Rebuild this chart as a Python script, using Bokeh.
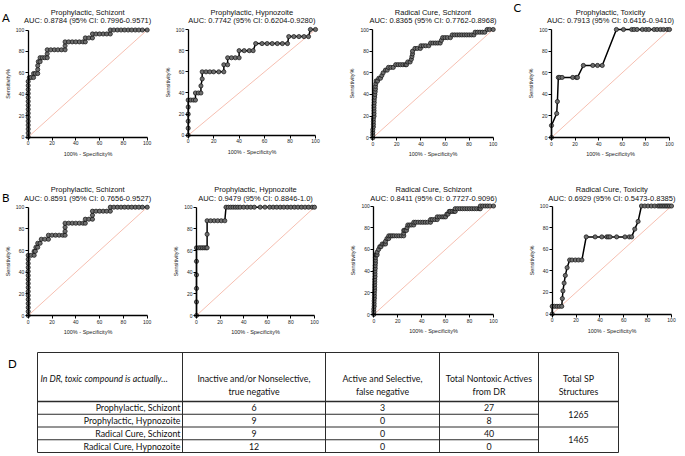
from bokeh.plotting import figure
from bokeh.layouts import row, column
from bokeh.models import Range1d, ColumnDataSource
from bokeh.embed import file_html
from bokeh.resources import INLINE
from bokeh.core.properties import value

# ---------------- data ----------------
TICKS = [0, 20, 40, 60, 80, 100]
diag_x = [0, 100]
diag_y = [0, 100]

names_a = ["Prophylactic, Schizont", "Prophylactic, Hypnozoite", "Radical Cure, Schizont", "Prophylactic, Toxicity"]
aucs_a = ["AUC: 0.8784 (95% CI: 0.7996-0.9571)", "AUC: 0.7742 (95% CI: 0.6204-0.9280)",
          "AUC: 0.8365 (95% CI: 0.7762-0.8968)", "AUC: 0.7913 (95% CI: 0.6416-0.9410)"]
names_b = ["Prophylactic, Schizont", "Prophylactic, Hypnozoite", "Radical Cure, Schizont", "Radical Cure, Toxicity"]
aucs_b = ["AUC: 0.8591 (95% CI: 0.7656-0.9527)", "AUC: 0.9479 (95% CI: 0.8846-1.0)",
          "AUC: 0.8411 (95% CI: 0.7727-0.9096)", "AUC: 0.6929 (95% CI: 0.5473-0.8385)"]
panel_letters = ["A", "B", "C", "D"]

# (100% - specificity, sensitivity) points
a1_pts = [(0, 0), (0, 3.7), (0, 7.4), (0, 11.1), (0, 14.8), (0, 18.5), (0, 22.2), (0, 25.9), (0, 29.6),
          (0, 33.3), (0, 37.0), (0, 40.7), (0, 44.4), (0, 48.1), (0, 51.9), (1, 55.6), (2.5, 55.6),
          (4.5, 55.6), (4.5, 59.3), (6, 59.3), (8, 59.3), (8, 63.0), (8, 66.7), (8.5, 70.4), (10, 70.4),
          (10, 74.1), (12, 74.1), (14, 74.1), (16, 74.1), (16, 77.8), (16, 81.5), (19, 81.5), (22, 81.5),
          (25, 81.5), (28, 81.5), (31, 81.5), (31, 85.2), (31, 88.9), (34, 88.9), (37, 88.9), (40, 88.9),
          (43, 88.9), (46, 88.9), (48, 88.9), (48, 92.6), (51, 92.6), (54, 92.6), (54, 96.3), (57, 96.3),
          (60, 96.3), (63, 96.3), (66, 96.3), (69, 96.3), (69, 100), (72, 100), (75, 100), (78, 100),
          (81, 100), (84, 100), (87, 100), (90, 100), (93, 100), (96, 100), (100, 100)]

a2_pts = [(0, 0), (0, 6.7), (0, 13.3), (0, 20), (0, 26.7), (0, 33.3), (2, 33.3), (4, 33.3), (5.7, 33.3),
          (5.7, 40), (8, 40), (10, 40), (10, 46.7), (11, 53.3), (11, 60), (14, 60), (17, 60), (20, 60),
          (24, 60), (28, 60), (28, 66.7), (31, 66.7), (31, 73.3), (34, 73.3), (37, 73.3), (40, 73.3),
          (40, 80), (44, 80), (48, 80), (51, 80), (53, 86.7), (58, 86.7), (62, 86.7), (66, 86.7),
          (70, 86.7), (74, 86.7), (78, 86.7), (79, 93.3), (83, 93.3), (87, 93.3), (91, 93.3),
          (94.5, 93.3), (96, 100), (100, 100)]

a3_pts = [(0, 0), (0, 2.5), (0, 5), (0, 7.5), (0.5, 10), (0.5, 12.5), (0.5, 15), (0.5, 17.5), (1, 20),
          (1, 22.5), (1, 25), (1, 27.5), (1, 30), (1.2, 32.5), (1.2, 35), (1.5, 37.5), (1.7, 40), (2, 42.5),
          (2.2, 45), (2.2, 47.5), (2.5, 50), (2.8, 52.5), (4, 52.5), (5, 55), (6.4, 55), (7.5, 57.5),
          (8.6, 60), (10.5, 62.5), (12, 62.5), (13, 65), (15, 65), (17, 65), (19, 67.5), (21, 67.5),
          (23, 67.5), (25, 67.5), (27, 67.5), (28, 67.5), (29, 70), (31, 70), (32, 72.5), (32.5, 75),
          (33, 77.5), (33, 80), (35, 82.5), (37, 82.5), (39.5, 82.5), (40, 85), (42, 85), (44, 85),
          (46.5, 85), (48, 87.5), (50, 87.5), (52, 87.5), (54, 87.5), (56, 87.5), (57, 90), (58, 92.5),
          (60, 92.5), (62, 92.5), (64.5, 92.5), (66, 95), (68, 95), (70, 95), (72, 95), (74, 95), (76, 95),
          (78, 95), (80, 95), (82, 95), (84, 95), (85, 97.5), (87, 97.5), (89, 97.5), (91, 97.5),
          (93, 97.5), (95, 100), (97, 100), (100, 100)]

a4_pts = [(0, 0), (0, 11.1), (4.4, 22.2), (5, 33.3), (5.8, 55.6), (7, 55.6), (9, 55.6), (18, 55.6),
          (21, 55.6), (22, 55.6), (27, 66.7), (35, 66.7), (39, 66.7), (43, 66.7), (55, 100), (61, 100),
          (68, 100), (70, 100), (72.5, 100), (77, 100), (80, 100), (82.5, 100), (87, 100), (89.5, 100),
          (92.4, 100), (95, 100), (98, 100), (100, 100)]

b1_pts = [(0, 0), (0, 3.7), (0, 7.4), (0, 11.1), (0, 14.8), (0, 18.5), (0, 22.2), (0, 25.9), (0, 29.6),
          (0, 33.3), (0, 37.0), (0, 40.7), (0, 44.4), (0, 48.1), (0, 51.9), (0, 55.6), (2.5, 55.6),
          (5, 55.6), (5, 59.3), (6, 59.3), (6.5, 63.0), (8, 63.0), (8, 66.7), (10, 66.7), (11, 70.4),
          (14, 70.4), (17, 70.4), (17, 74.1), (20, 74.1), (23, 74.1), (26, 74.1), (29, 74.1), (31, 74.1),
          (31, 77.8), (31, 81.5), (31, 85.2), (34, 85.2), (37, 85.2), (40, 85.2), (43, 85.2), (46, 85.2),
          (48, 85.2), (48, 88.9), (51, 88.9), (54, 88.9), (54, 92.6), (54, 96.3), (57, 96.3), (60, 96.3),
          (63, 96.3), (66, 96.3), (69, 96.3), (69, 100), (72, 100), (75, 100), (78, 100), (81, 100),
          (84, 100), (87, 100), (90, 100), (93, 100), (96, 100), (100, 100)]

b2_pts = [(0, 0), (0, 12.5), (0, 25), (0, 37.5), (0, 50), (0, 62.5), (2, 62.5), (3.5, 62.5), (5, 62.5),
          (6.5, 62.5), (8, 62.5), (9, 62.5), (9, 75), (9, 87.5), (12, 87.5), (15, 87.5), (18, 87.5),
          (21, 87.5), (24, 87.5), (25, 100), (27, 100), (29, 100), (31, 100), (33, 100), (35, 100),
          (37, 100), (40, 100), (43, 100), (46, 100), (49, 100), (54, 100), (58, 100), (62, 100),
          (65, 100), (68, 100), (71, 100), (74, 100), (77, 100), (80, 100), (83, 100), (86, 100),
          (89, 100), (92, 100), (95, 100), (98, 100), (100, 100)]

b3_pts = [(0, 0), (0, 2.5), (0, 5), (0.3, 7.5), (0.3, 10), (0.3, 12.5), (0.5, 15), (0.5, 17.5), (0.5, 20),
          (0.7, 22.5), (0.7, 25), (0.7, 27.5), (0.8, 30), (0.8, 32.5), (1, 35), (1, 37.5), (1, 40),
          (1.2, 42.5), (1.2, 45), (1.4, 47.5), (1.4, 50), (1.4, 52.5), (1.4, 55), (2.1, 55), (2.8, 55),
          (2.8, 57.5), (4, 60), (5, 62.5), (6, 62.5), (7, 65), (8.5, 65), (9.8, 65), (9.8, 67.5), (11, 70),
          (12.5, 70), (12.5, 72.5), (14, 72.5), (15.5, 72.5), (17, 72.5), (19, 72.5), (21, 72.5),
          (23, 72.5), (25, 72.5), (25, 75), (25, 77.5), (26, 77.5), (27.3, 77.5), (27.8, 80), (28.4, 82.5),
          (30, 82.5), (31.5, 82.5), (33.4, 82.5), (33.4, 85), (35, 85), (37, 85), (39, 85), (41, 85),
          (43, 85), (45, 85), (47.4, 85), (47.4, 87.5), (49, 87.5), (51, 87.5), (53, 87.5), (53, 90),
          (55, 90), (57, 90), (58.5, 90), (60, 90), (61, 92.5), (62, 92.5), (63, 95), (64, 95), (65.5, 95),
          (67, 95), (68, 95), (68, 97.5), (70, 97.5), (72, 97.5), (74, 97.5), (76, 97.5), (78, 97.5),
          (80, 97.5), (82, 97.5), (84, 97.5), (86, 97.5), (88, 97.5), (89, 97.5), (89, 100), (91, 100),
          (93, 100), (95, 100), (97, 100), (100, 100)]

b4_pts = [(0, 0), (0, 7.1), (2, 7.1), (4, 7.1), (6, 7.1), (8, 7.1), (8.5, 14.3), (9, 21.4), (10, 28.6),
          (11, 35.7), (12.5, 42.9), (14.6, 50), (16.6, 50), (19.4, 50), (22.1, 50), (24.9, 50),
          (28.5, 71.4), (36, 71.4), (41.6, 71.4), (45.7, 71.4), (47.1, 71.4), (48.5, 71.4), (54, 71.4),
          (61, 71.4), (64.6, 71.4), (66.6, 71.4), (69.2, 78.6), (72, 85.7), (74.8, 100), (77.6, 100),
          (80.3, 100), (83.1, 100), (85.9, 100), (88.6, 100), (90, 100), (91.4, 100), (92.8, 100),
          (94.2, 100), (95.6, 100), (96.9, 100), (98.3, 100), (100, 100)]

table_rows = ["Prophylactic, Schizont", "Prophylactic, Hypnozoite", "Radical Cure, Schizont", "Radical Cure, Hypnozoite"]
table_tn = [6, 9, 9, 12]
table_fn = [3, 0, 0, 0]
table_actives = [27, 8, 40, 0]
table_sp = [1265, 1465]
table_corner = "In DR, toxic compound is actually…"
table_head1 = ["Inactive and/or Nonselective,", "Active and Selective,", "Total Nontoxic Actives", "Total SP"]
table_head2 = ["true negative", "false negative", "from DR", "Structures"]

# ---------------- layout (page pixel positions; Bokeh's page template has no body margin) ----------------
AX_FONT = "Liberation Sans"
TBL_FONT = "Lato"
FIG_X = [0, 160, 344, 523]
FIG_W = [160, 184, 179, 161]
ROW_Y = [0, 168]
ROW_H = [168, 170]
TABLE_Y, TABLE_H, TABLE_W = 338, 117, 684
# page x of 0 and 100, page y of 0 and 100 for each panel
GEO_A = [(27.7, 146.7, 136.5, 29.5), (187.7, 315, 134.8, 29), (372.3, 492.7, 137.3, 29), (551, 669, 137, 29)]
GEO_B = [(27.7, 146.7, 315, 206.7), (196, 314, 315, 206.7), (373.3, 493, 314, 205.5), (551.7, 671, 313.5, 205.5)]
TITLE_Y = [(11.7, 20.2), (189, 197.5)]


def roc(col, rix, geo, name, auc, pts):
    fx, fy, W, H = FIG_X[col], ROW_Y[rix], FIG_W[col], ROW_H[rix]
    x0, x100, y0, y100 = geo
    ppx = (x100 - x0) / 100.0
    ppy = (y0 - y100) / 100.0

    def dx(px):
        return (px - x0) / ppx

    def dy(py):
        return (y0 - py) / ppy

    p = figure(width=W, height=H, x_range=Range1d(dx(fx), dx(fx + W)), y_range=Range1d(dy(fy + H), dy(fy)),
               output_backend="svg", toolbar_location=None, title=None, min_border=0,
               min_border_left=0, min_border_right=0, min_border_top=0, min_border_bottom=0)
    p.xgrid.visible = False
    p.ygrid.visible = False
    p.outline_line_color = None
    p.background_fill_color = "white"
    p.border_fill_color = "white"
    for ax in (p.xaxis[0], p.yaxis[0]):
        ax.fixed_location = 0
        ax.ticker = TICKS
        ax.bounds = (0, 100)
        ax.axis_line_width = 1.3
        ax.axis_line_color = "black"
        ax.major_tick_line_width = 1
        ax.major_tick_line_color = "black"
        ax.major_tick_out = 3
        ax.major_tick_in = 0
        ax.minor_tick_line_color = None
        ax.major_label_text_font_size = "5px"
        ax.major_label_text_font = AX_FONT
        ax.major_label_text_color = "#222222"
        ax.major_label_standoff = 1
        ax.axis_label_text_font_size = "5.5px"
        ax.axis_label_text_font = AX_FONT
        ax.axis_label_text_font_style = "normal"
        ax.axis_label_text_color = "#222222"
        ax.axis_label_standoff = 2
    p.xaxis[0].axis_label = "100% - Specificity%"
    p.yaxis[0].axis_label = "Sensitivity%"

    xs = [q[0] for q in pts]
    ys = [q[1] for q in pts]
    p.line(diag_x, diag_y, line_color="#f2a48f", line_width=0.7)
    p.line(xs, ys, line_color="black", line_width=1.5)
    p.scatter(xs, ys, size=4.2, fill_color="#6e6e6e", line_color="#111111", line_width=0.7)

    cx = dx((x0 + x100) / 2)
    ty1, ty2 = TITLE_Y[rix]
    p.text(x=[cx, cx], y=[dy(ty1), dy(ty2)], text=[name, auc], text_font=value(AX_FONT),
           text_font_size="7.5px", text_align="center", text_baseline="middle", text_color="#111111")

    def put_letter(txt, px, py):
        p.text(x=[dx(px)], y=[dy(py)], text=[txt], text_font=value(TBL_FONT), text_font_size="11.5px",
               text_align="left", text_baseline="middle", text_color="black")
    return p, put_letter


figs_a = []
for i in range(4):
    f, pl = roc(i, 0, GEO_A[i], names_a[i], aucs_a[i], [a1_pts, a2_pts, a3_pts, a4_pts][i])
    figs_a.append((f, pl))
figs_b = []
for i in range(4):
    f, pl = roc(i, 1, GEO_B[i], names_b[i], aucs_b[i], [b1_pts, b2_pts, b3_pts, b4_pts][i])
    figs_b.append((f, pl))

figs_a[0][1](panel_letters[0], 1.5, 16.5)
figs_b[0][1](panel_letters[1], 1.5, 197)
figs_a[2][1](panel_letters[2], 513, 6.5)

# ---------------- table (D) ----------------
t = figure(width=TABLE_W, height=TABLE_H, x_range=Range1d(0, TABLE_W),
           y_range=Range1d(TABLE_Y + TABLE_H, TABLE_Y),
           output_backend="svg", toolbar_location=None, title=None, min_border=0,
           x_axis_location=None, y_axis_location=None)
t.xgrid.visible = False
t.ygrid.visible = False
t.outline_line_color = None

cols = [37, 182, 325, 439, 538, 618]
top, hb, bottom = 352, 401, 452
rh = (bottom - hb) / 4
row_lines = [hb + rh * (i + 1) for i in range(4)]
row_mid = [hb + rh * (i + 0.5) for i in range(4)]
LC = "#2b2b2b"

t.segment(x0=[cols[0]], y0=[top], x1=[cols[-1]], y1=[top], line_color=LC, line_width=1)
t.segment(x0=[cols[0]], y0=[hb], x1=[cols[-1]], y1=[hb], line_color=LC, line_width=1.6)
hx1 = [cols[4], cols[5], cols[4], cols[5]]
t.segment(x0=[cols[0]] * 4, y0=row_lines, x1=hx1, y1=row_lines, line_color=LC, line_width=1)
t.segment(x0=cols, y0=[top] * len(cols), x1=cols, y1=[bottom] * len(cols), line_color=LC, line_width=1)

tf = value(TBL_FONT)
FS = "8.8px"
t.text(x=[cols[0] + 3], y=[378], text=[table_corner], text_font=tf, text_font_size=FS,
       text_font_style="italic", text_align="left", text_baseline="middle", text_color="#111111")
hcx = [(cols[i] + cols[i + 1]) / 2 for i in range(1, 5)]
t.text(x=hcx, y=[377.5] * 4, text=table_head1, text_font=tf, text_font_size=FS,
       text_align="center", text_baseline="middle", text_color="#111111")
t.text(x=hcx, y=[390.5] * 4, text=table_head2, text_font=tf, text_font_size=FS,
       text_align="center", text_baseline="middle", text_color="#111111")
t.text(x=[cols[1] - 2] * 4, y=row_mid, text=table_rows, text_font=tf, text_font_size=FS,
       text_align="right", text_baseline="middle", text_color="#111111")
cell_src = ColumnDataSource(dict(
    x=[hcx[0]] * 4 + [hcx[1]] * 4 + [hcx[2]] * 4,
    y=row_mid * 3,
    t=[str(v) for v in table_tn] + [str(v) for v in table_fn] + [str(v) for v in table_actives]))
t.text(x="x", y="y", text="t", source=cell_src, text_font=tf, text_font_size=FS,
       text_align="center", text_baseline="middle", text_color="#111111")
sp_y = [(hb + row_lines[1]) / 2, (row_lines[1] + row_lines[3]) / 2]
t.text(x=[hcx[3]] * 2, y=sp_y, text=[str(v) for v in table_sp], text_font=tf, text_font_size=FS,
       text_align="center", text_baseline="middle", text_color="#111111")
t.text(x=[7.5], y=[363], text=[panel_letters[3]], text_font=tf, text_font_size="11.5px",
       text_align="left", text_baseline="middle", text_color="black")

layout = column(row(*[f for f, _ in figs_a]), row(*[f for f, _ in figs_b]), t)

with open("out.html", "w") as f:
    f.write(file_html(layout, INLINE))
